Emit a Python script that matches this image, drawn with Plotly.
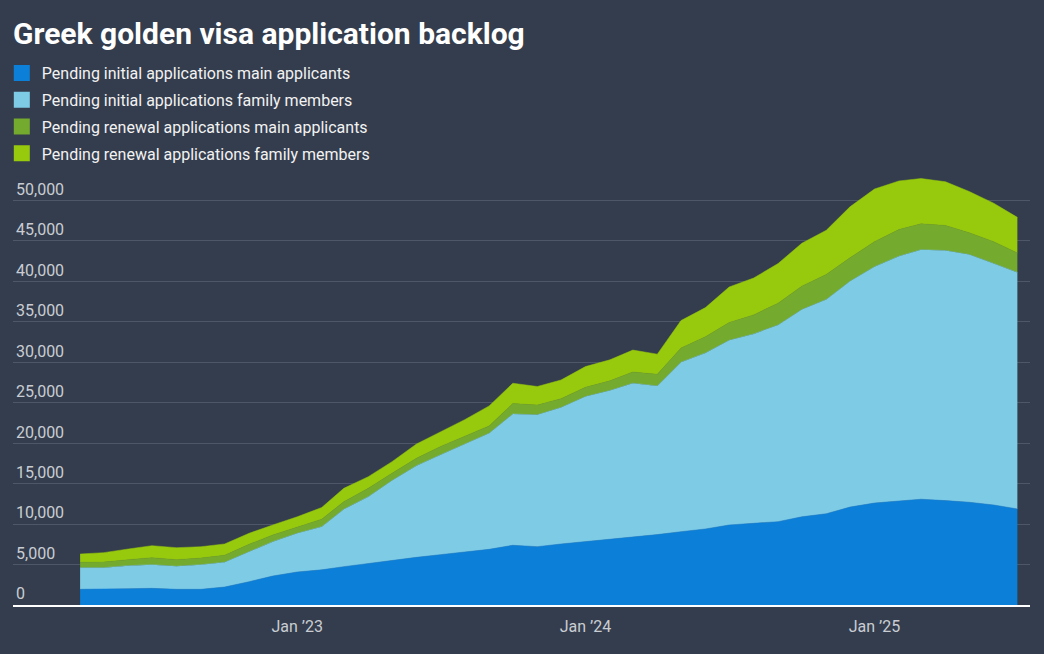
import pandas as pd
import plotly.graph_objects as go

# monthly snapshots, Apr 2022 - Jul 2025
months = pd.date_range("2022-04-01", periods=40, freq="MS")

initial_main = [
    1940, 1940, 2020, 2060, 1940, 1940, 2220, 2880, 3580, 4080,
    4350, 4740, 5150, 5480, 5890, 6220, 6590, 6880, 7380, 7210,
    7540, 7830, 8160, 8440, 8700, 9060, 9400, 9890, 10100, 10300,
    10900, 11280, 12100, 12600, 12850, 13070, 12900, 12700, 12360, 11870,
]
initial_family = [
    2670, 2670, 2840, 2920, 2840, 3040, 3060, 3710, 4250, 4780,
    5330, 7090, 8240, 9890, 11330, 12320, 13310, 14340, 16220, 16290,
    16860, 17920, 18340, 18960, 18370, 20940, 21750, 22810, 23400, 24300,
    25600, 26470, 27900, 29200, 30250, 30830, 30900, 30600, 29840, 29230,
]
renewal_main = [
    670, 690, 740, 870, 820, 820, 860, 910, 820, 740,
    920, 940, 1030, 910, 910, 1030, 900, 910, 1300, 1200,
    1100, 1150, 1200, 1400, 1430, 1750, 2000, 2200, 2350, 2700,
    2900, 3100, 2900, 3100, 3300, 3200, 3100, 2700, 2700, 2400,
]
renewal_family = [
    1020, 1170, 1320, 1480, 1480, 1400, 1400, 1360, 1240, 1300,
    1450, 1650, 1440, 1430, 1770, 1830, 2100, 2470, 2500, 2300,
    2300, 2560, 2600, 2700, 2500, 3400, 3600, 4400, 4550, 4900,
    5300, 5450, 6300, 6500, 6000, 5600, 5400, 5100, 4750, 4400,
]

series_names = [
    "Pending initial applications main applicants",
    "Pending initial applications family members",
    "Pending renewal applications main applicants",
    "Pending renewal applications family members",
]
series_values = [initial_main, initial_family, renewal_main, renewal_family]
colors = ["#0c7fd9", "#7ecbe6", "#74aa2d", "#97c90c"]

x_tickvals = ["2023-01-01", "2024-01-01", "2025-01-01"]
x_ticktext = ["Jan \u201923", "Jan \u201924", "Jan \u201925"]

bg = "#343d4d"
label_color = "#c9cdd3"

fig = go.Figure()
for name, values, color in zip(series_names, series_values, colors):
    fig.add_trace(
        go.Scatter(
            x=months,
            y=values,
            name=name,
            mode="lines",
            stackgroup="one",
            line=dict(width=0.5, color=color),
            fillcolor=color,
            legendgroup=name,
            showlegend=False,
        )
    )
    # square legend swatch
    fig.add_trace(
        go.Scatter(
            x=[None],
            y=[None],
            name=name,
            mode="markers",
            marker=dict(symbol="square", size=18, color=color),
            legendgroup=name,
            showlegend=True,
        )
    )

fig.update_layout(
    width=1044,
    height=654,
    paper_bgcolor=bg,
    plot_bgcolor=bg,
    margin=dict(l=13, r=14, t=168, b=49, autoexpand=False),
    font=dict(family="Roboto", size=16, color=label_color),
    title=dict(
        text="Greek golden visa application backlog",
        x=13 / 1044,
        xanchor="left",
        y=1 - 33 / 654,
        yanchor="middle",
        font=dict(family="Roboto", size=30, color="white", weight=700),
    ),
    legend=dict(
        x=-0.011,
        xanchor="left",
        y=1.2563,
        yanchor="top",
        traceorder="grouped",
        tracegroupgap=3,
        itemsizing="trace",
        bgcolor="rgba(0,0,0,0)",
        font=dict(family="Roboto", size=16, color="#f2f2f2"),
    ),
    hovermode="x unified",
)

fig.update_xaxes(
    range=["2022-01-06", "2025-07-17"],
    tickvals=x_tickvals,
    ticktext=x_ticktext,
    showgrid=False,
    zeroline=False,
    showline=True,
    linecolor="white",
    linewidth=1.5,
    ticks="",
    ticklabelstandoff=6,
    automargin=False,
    tickfont=dict(size=16, color=label_color),
)
fig.update_yaxes(
    range=[0, 54000],
    dtick=5000,
    tickformat=",",
    showgrid=True,
    gridcolor="#4e5767",
    gridwidth=1,
    zeroline=False,
    ticks="",
    ticklabelposition="inside top",
    automargin=False,
    tickfont=dict(size=16, color=label_color),
)

# drop the default page margin so the figure sits at the window corner
fig.write_html(
    "out.html",
    config={"displayModeBar": False},
    post_script="document.body.style.margin='0';",
)
